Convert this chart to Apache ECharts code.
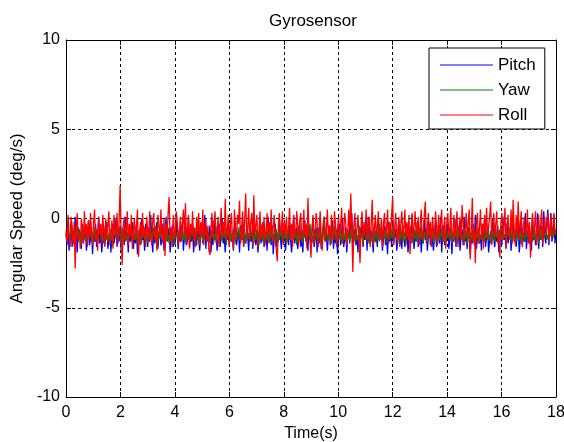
<!DOCTYPE html>
<html>
<head>
<meta charset="utf-8">
<script src="https://cdn.jsdelivr.net/npm/echarts@6/dist/echarts.min.js"></script>
<style>
  html, body { margin: 0; padding: 0; background: #fff; }
  #chart { width: 564px; height: 442px; }
</style>
</head>
<body>
<div id="chart"></div>
<script>
// Gyro sensor readings, sampled every 0.0375 s over 18 s
const sampleStep = 0.0375;
const seriesNames = ['Pitch', 'Yaw', 'Roll'];
const xTicks = [0, 2, 4, 6, 8, 10, 12, 14, 16, 18];
const yTicks = [-10, -5, 0, 5, 10];

const pitch = [
  -0.9, -1.5, -0.4, -1.8, -1.1, -0.2, -1.6, -0.7, -1.3, 0.1, -1.0, -1.9, -0.5, -1.2, -0.8, -1.7, -0.3, -1.4, -1.0, -0.6,
  -1.8, -0.9, -0.1, -1.5, -1.2, -0.5, -2.0, -0.8, -1.3, -0.3, -1.6, -1.0, 0.1, -1.4, -0.7, -1.9, -1.1, -0.4, -1.5, -0.9,
  -0.2, -1.7, -1.2, -0.6, -1.9, -0.9, -0.3, -1.4, -1.0, 0.0, -1.6, -0.8, -1.3, -0.4, -1.8, -1.1, -0.6, -1.5, 0.1, -1.2,
  -0.8, -1.9, -0.5, -1.3, -1.0, -0.2, -1.7, -0.9, -1.4, -0.4, -2.0, -1.1, -0.6, -1.5, 0.0, -1.2, -0.8, -1.8, -0.3, -1.0,
  -1.6, -0.7, -1.3, 0.2, -1.1, -1.9, -0.5, -1.4, -0.9, -0.2, -1.7, -1.0, -0.6, -1.5, -1.2, -0.3, -1.8, -0.8, 0.1, -1.3,
  -1.0, -0.5, -1.9, -1.2, -0.4, -1.6, -0.8, -1.4, 0.0, -1.1, -1.7, -0.6, -1.3, -0.9, -0.2, -1.8, -1.0, -0.5, -1.5, -1.2,
  0.1, -1.6, -0.9, -1.3, -0.4, -1.9, -1.1, -0.7, -1.5, -0.2, -1.2, -1.8, -0.8, -0.3, -1.4, -1.0, 0.2, -1.7, -0.6, -1.3,
  -1.0, -0.4, -1.9, -0.9, -1.5, -0.1, -1.2, -0.7, -1.8, -1.1, -0.3, -1.6, -0.8, 0.0, -1.4, -1.0, -1.9, -0.5, -1.2, -0.8,
  -1.6, -0.2, -1.3, -1.0, -1.8, -0.6, -0.1, -1.5, -1.1, -0.7, -1.9, -0.4, -1.2, 0.1, -1.6, -0.9, -1.4, -0.5, -1.1, -1.8,
  -0.3, -1.3, -0.8, -1.7, 0.0, -1.0, -1.5, -0.6, -1.9, -1.2, -0.4, -1.4, -0.9, -0.2, -1.6, -1.1, -0.7, -1.8, 0.1, -1.2,
  -0.9, -1.5, -0.5, -2.0, -1.1, -0.3, -1.6, -0.8, -1.3, 0.0, -1.0, -1.7, -0.6, -1.4, -0.2, -1.8, -1.1, -0.7, -1.5, -0.4,
  -1.2, -1.9, -0.8, 0.2, -1.4, -1.0, -0.5, -1.7, -1.2, -0.3, -1.6, -0.9, -1.9, -0.6, -0.1, -1.3, -1.0, -1.8, -0.4, -1.1,
  -1.5, -0.7, 0.0, -1.6, -1.2, -0.5, -1.9, -0.9, -1.4, -0.2, -1.7, -1.1, -0.6, 0.1, -1.3, -0.8, -1.8, -1.0, -0.4, -1.5,
  -1.2, -0.1, -1.7, -0.9, -1.4, -0.6, -2.0, -1.1, -0.3, -1.5, -0.8, 0.0, -1.6, -1.2, -0.5, -1.9, -1.0, -0.7, -1.4, -0.2,
  0.3, -1.7, -1.1, -0.6, -1.5, -0.9, -1.9, -0.4, -1.3, -1.0, -0.1, -1.6, -0.8, -1.2, -0.5, -1.8, 0.1, -1.1, -1.4, -0.7,
  -1.0, -1.9, -0.3, -1.3, -0.8, -1.6, 0.0, -1.2, -1.0, -0.6, -1.8, -1.1, -0.4, -1.5, -0.9, -2.0, -0.2, -1.3, -0.7, -1.6,
  -0.2, -1.4, -1.0, -0.6, -1.8, -1.2, 0.0, -1.5, -0.9, -1.7, -0.4, -1.1, -1.6, -0.8, -0.3, -1.9, -1.2, -0.5, -1.4, 0.2,
  -1.0, -1.7, -0.7, -1.3, -0.2, -1.6, -1.1, -0.5, -1.9, -0.9, -1.4, 0.0, -1.2, -0.6, -1.8, -1.0, -0.3, -1.5, -0.8, -1.3,
  -1.8, -0.9, -0.2, -1.6, -1.1, -0.6, -1.4, 0.1, -1.9, -1.0, -0.4, -1.5, -0.8, -1.2, -0.3, -1.7, -1.1, -0.5, -2.0, -0.9,
  -1.3, 0.0, -1.6, -0.7, -1.2, -0.4, -1.8, -1.0, -0.6, -1.5, 0.1, -1.3, -0.9, -1.7, -0.5, -1.1, -2.0, -0.8, -1.4, -0.3,
  -1.5, 0.2, -1.7, -1.1, -0.6, -1.4, -0.9, -1.8, -0.3, -1.2, 0.1, -1.6, -1.0, -0.5, -1.9, -1.2, -0.7, -1.4, 0.0, -1.1,
  -1.6, -0.8, -1.3, -0.4, -1.9, -1.0, -0.6, -1.5, 0.1, -1.2, -0.9, -1.7, -0.3, -1.4, -1.0, -0.5, -1.8, -1.1, 0.2, -1.3,
  -0.7, -1.6, -1.0, -0.3, -1.9, -1.2, 0.0, -1.5, -0.8, -1.3, 0.3, -1.7, -1.0, -0.5, -1.4, -0.9, -1.8, 0.1, -1.2, -0.6,
  -1.5, -1.0, 0.3, -1.7, -0.8, -1.2, -0.4, -1.6, 0.4, -1.0, -1.4, -0.2, 0.5, -1.5, -0.7, 0.3, -1.3, -0.9, 0.2, -1.4,
  -0.8
];

const yaw = [
  -0.8, -1.2, -0.6, -1.0, -1.4, -0.5, -0.9, -1.3, -0.7, -1.1, -0.4, -1.0, -1.3, -0.6, -0.9, -1.5, -0.7, -1.1, -0.5, -1.2,
  -0.9, -1.4, -0.6, -1.0, -0.4, -1.2, -0.8, -1.3, -0.5, -1.1, -0.9, -1.4, -0.7, -0.3, -1.2, -0.8, -1.0, -1.4, -0.6, -1.1,
  -0.5, -1.3, -0.9, -0.6, -1.2, -1.0, -1.5, -0.7, -0.4, -1.1, -0.8, -1.3, -0.6, -1.0, -1.4, -0.5, -0.9, -1.2, -0.7, -1.0,
  -1.3, -0.6, -1.1, -0.4, -0.9, -1.4, -0.8, -1.2, -0.5, -1.0, -1.3, -0.7, -0.9, -1.5, -0.6, -1.1, -0.4, -1.2, -0.8, -1.0,
  -1.4, -0.5, -1.1, -0.8, -1.3, -0.6, -0.9, -1.2, -0.4, -1.0, -1.4, -0.7, -1.1, -0.5, -0.9, -1.3, -0.8, -1.1, -0.3, -1.2,
  -0.9, -1.4, -0.6, -1.0, -1.2, -0.7, -1.5, -0.5, -1.0, -0.8, -1.3, -0.6, -1.1, -0.4, -0.9, -1.2, -0.7, -1.4, -0.5, -1.0,
  -1.2, -0.8, -1.3, -0.4, -1.0, -0.7, -1.4, -0.9, -0.5, -1.2, -1.0, -1.5, -0.6, -0.9, -1.3, -0.7, -1.1, -0.4, -1.2, -0.8,
  -1.0, -1.4, -0.6, -1.1, -0.5, -1.3, -0.8, -1.2, -0.4, -1.0, -1.4, -0.7, -0.9, -1.3, -0.5, -1.1, -0.8, -1.5, -0.6, -1.0,
  -0.4, -1.2, -0.9, -1.3, -0.6, -1.0, -1.4, -0.7, -1.1, -0.5, -0.9, -1.3, -0.8, -1.2, -0.3, -1.0, -1.4, -0.6, -1.1, -0.8,
  -1.3, -0.5, -1.0, -0.7, -1.4, -0.9, -1.2, -0.6, -1.0, -1.5, -0.4, -1.1, -0.8, -1.3, -0.6, -0.9, -1.2, -0.5, -1.0, -1.4,
  -0.7, -1.1, -0.4, -1.3, -0.9, -1.0, -0.6, -1.4, -0.8, -1.2, -0.5, -1.0, -1.3, -0.7, -1.1, -0.4, -1.4, -0.9, -0.6, -1.2,
  -1.0, -0.5, -1.3, -0.8, -1.1, -0.6, -1.5, -0.9, -0.4, -1.2, -1.0, -0.7, -1.4, -0.6, -1.1, -0.8, -1.3, -0.5, -1.0, -0.3,
  -1.2, -0.9, -1.4, -0.6, -1.0, -0.8, -1.3, -0.5, -1.1, -0.7, -1.5, -0.9, -0.4, -1.2, -1.0, -0.6, -1.3, -0.8, -1.1, -0.5,
  -1.4, -0.7, -1.0, -0.4, -1.2, -0.9, -1.3, -0.6, -1.1, -0.8, -1.4, -0.5, -1.0, -1.2, -0.7, -1.5, -0.6, -0.9, -1.3, -0.8,
  -1.1, -0.4, -1.3, -0.9, -0.6, -1.2, -1.0, -1.4, -0.5, -1.1, -0.8, -1.3, -0.4, -1.0, -1.2, -0.7, -1.4, -0.6, -1.0, -0.9,
  -1.3, -0.5, -1.1, -0.7, -1.4, -0.8, -1.0, -0.3, -1.2, -0.9, -1.3, -0.6, -1.1, -0.5, -1.4, -0.8, -1.0, -1.2, -0.6, -1.1,
  -0.4, -1.3, -0.9, -1.0, -0.6, -1.4, -0.8, -1.2, -0.5, -1.1, -1.3, -0.7, -1.0, -1.5, -0.6, -0.9, -1.2, -0.4, -1.1, -0.8,
  -1.4, -0.6, -1.0, -1.3, -0.5, -1.1, -0.8, -1.2, -0.4, -1.0, -1.4, -0.7, -1.1, -0.9, -1.3, -0.5, -1.0, -0.7, -1.2, -0.6,
  -1.1, -1.4, -0.7, -0.9, -1.3, -0.5, -1.2, -0.8, -1.0, -0.4, -1.3, -0.9, -1.5, -0.6, -1.1, -0.8, -1.2, -0.5, -1.0, -1.3,
  -0.7, -1.1, -0.4, -1.4, -0.8, -1.0, -0.6, -1.2, -0.9, -1.3, -0.5, -1.1, -0.7, -1.4, -1.0, -0.6, -1.2, -0.8, -1.3, -0.4,
  -1.0, -1.3, -0.7, -1.1, -0.5, -1.4, -0.9, -1.2, -0.6, -1.0, -1.3, -0.8, -1.1, -0.4, -1.2, -0.9, -1.4, -0.6, -1.0, -0.7,
  -1.3, -0.5, -1.1, -0.8, -1.4, -0.6, -1.0, -1.2, -0.3, -1.1, -0.9, -1.3, -0.7, -1.0, -0.5, -1.2, -0.8, -1.4, -0.6, -1.1,
  -0.8, -1.3, -0.5, -1.0, -1.2, -0.7, -1.4, -0.6, -1.1, -0.9, -1.3, -0.4, -1.0, -1.2, -0.8, -1.1, -0.5, -1.3, -0.7, -1.0,
  -1.2, -0.6, -1.0, -1.4, -0.7, -1.1, -0.5, -1.3, -0.8, -1.0, -0.6, -1.2, -0.9, -1.3, -0.5, -1.0, -0.8, -1.1, -0.6, -0.9,
  -0.8
];

const roll = [
  -0.7, -1.3, 0.2, -0.9, -1.6, 0.1, -0.4, -1.5, -0.2, -2.8, -0.6, 0.3, -1.2, -0.8, -1.7, 0.0, -0.5, -1.4, 0.4, -1.0,
  -0.3, -1.6, -0.1, -1.1, 0.3, -0.8, -1.5, -0.2, 0.5, -1.3, -0.6, -1.8, 0.1, -0.9, -0.3, -1.4, 0.2, -0.7, -1.6, 0.0,
  -1.2, -0.4, 0.4, -1.5, -0.8, -0.1, -1.7, 0.2, -0.6, -1.1, 0.3, -1.4, -0.2, 1.85, -0.9, -2.6, -0.5, 0.1, -1.3, -0.7,
  0.4, -1.5, -0.3, -1.0, 0.2, -1.7, -0.6, 0.0, -1.2, -0.4, 0.5, -2.15, -0.8, -0.2, -1.4, 0.3, -1.0, -0.5, -1.6, 0.1,
  -0.7, -1.3, 0.4, -0.9, -1.5, -0.1, 0.3, -1.2, -0.6, -1.8, 0.2, -0.4, -1.1, 0.5, -0.8, -1.4, 0.0, -2.1, -0.3, -1.0,
  0.3, 1.2, -1.3, -0.5, -1.6, 0.2, -0.7, -1.1, 0.4, -0.2, -1.5, -0.9, 0.1, -1.3, -0.4, 0.5, -1.0, 0.85, -1.4, -0.6,
  0.2, -1.7, -0.3, -0.9, 0.4, -1.2, -0.5, -1.6, 0.1, -0.8, 0.3, -1.4, -0.2, -1.0, 0.5, -1.5, -0.6, 0.0, -1.3, -0.4,
  -1.8, -2.05, -0.7, 0.3, -1.1, -0.3, 0.4, -1.4, -0.8, 0.1, -1.6, -0.5, 0.6, -1.2, -0.2, -0.9, 1.1, -1.3, -0.6, 0.2,
  -1.5, -0.4, 0.3, -1.0, -1.7, 0.5, -0.6, -1.2, 0.2, -0.3, 1.0, -1.4, -0.8, 0.4, -1.6, -0.1, 1.4, -1.1, -0.5, 0.6,
  -1.3, -0.2, 0.3, -1.5, 1.3, -0.9, -0.4, 0.2, -1.6, -0.7, 0.4, -1.2, -0.3, -1.0, 0.1, -1.5, -0.6, 0.3, -1.3, -0.2,
  -0.9, 0.5, -1.4, -0.5, 0.2, -1.1, -1.7, -2.4, -0.4, 0.3, -1.0, -0.6, 0.4, -1.5, -0.2, -0.8, 0.1, -1.3, -0.5, 0.6,
  -1.2, -0.3, -1.6, 0.2, -0.7, -1.1, 0.4, -0.4, -1.5, -0.1, 0.3, -1.3, -0.8, 0.5, -1.0, -0.3, -1.7, 1.15, -0.6, -1.2,
  -2.2, -0.5, 0.2, -1.4, -0.9, 0.3, -0.2, -1.6, -0.6, 0.4, -1.1, -1.8, -0.3, 0.1, -1.3, -0.7, 0.5, -1.0, -0.4, -1.5,
  0.2, -0.8, -1.2, 0.4, -0.3, -1.6, -0.6, 0.1, -1.1, -0.4, 0.6, -1.4, -0.9, 0.3, -0.2, -1.5, -0.7, 0.5, -1.0, 1.4,
  -0.8, -3.0, -0.4, 0.3, -1.3, -0.6, 0.2, -1.1, -2.5, -0.5, 0.4, -1.4, -0.2, -0.9, 0.5, -1.2, -0.6, 0.1, -1.6, -0.3,
  1.05, -1.5, -0.7, 0.2, -1.0, -0.4, 0.4, -1.3, -0.8, 0.0, -1.6, -0.3, 0.3, -1.1, -0.6, 0.5, -1.4, -0.2, -0.9, 0.2,
  1.2, -1.5, -0.5, 0.3, -1.2, -0.8, 0.1, -1.6, -0.3, 0.4, -1.0, -0.6, 0.5, -1.4, -0.2, -1.1, 0.2, -2.0, -0.7, 0.3,
  -1.3, -0.4, 0.4, -1.0, -0.6, 0.1, -1.5, -0.3, 0.5, -1.2, -0.8, 0.2, 0.95, -1.4, -0.5, 0.3, -1.1, -0.2, -1.6, 0.1,
  -0.7, -1.2, 0.4, -0.4, -1.5, 0.2, -0.9, -0.3, 0.5, -1.3, -0.6, 0.1, -1.7, -0.2, 0.3, -1.0, -0.5, 0.6, -1.4, -0.8,
  0.2, -1.1, -0.4, 0.4, -1.6, -0.6, 0.1, -1.2, 0.75, -0.3, -1.5, -0.8, 0.3, -1.0, -0.2, 0.5, -2.3, -0.7, 1.15, -1.3,
  -0.5, -2.5, -0.2, 0.3, -1.4, -0.6, 0.5, -1.1, -0.3, -1.7, 0.2, -0.8, 0.6, -1.2, -0.4, 0.1, 0.95, -1.5, -0.6, 0.3,
  -1.0, -0.3, 0.4, -1.4, -0.7, -2.2, -0.2, 0.3, -1.2, -0.5, 0.6, -1.6, -0.4, 0.2, -1.1, -0.8, 0.5, -1.3, 1.05, -0.6,
  -1.5, 0.2, -0.9, 0.95, -1.2, -0.3, 0.4, -1.6, -0.5, 0.1, -1.0, -0.7, 0.5, -1.4, -0.2, -2.2, -0.6, 0.3, -1.1, -0.4,
  0.4, -1.5, -0.8, 0.2, -1.2, -0.3, 0.5, -1.4, -0.6, 0.1, -1.0, -0.4, 0.3, -1.3, -0.7, 0.2, -1.1, -0.5, 0.3, -0.9,
  -0.6
];

const seriesColors = ['#0000ff', '#008000', '#ff0000'];
const FONT = '"Liberation Sans", Arial, sans-serif';

// pair each reading with its sample time
function withTime(values) {
  return values.map((v, i) => [+(i * sampleStep).toFixed(4), v]);
}

const gridLine = { show: true, lineStyle: { color: '#000', width: 1, type: [3, 3] } };
const frameLine = { show: true, onZero: false, lineStyle: { color: '#000', width: 1 } };
const innerTick = { show: true, inside: true, length: 5, lineStyle: { color: '#000' } };
const tickLabel = { color: '#000', fontSize: 16, fontFamily: FONT };

const chart = echarts.init(document.getElementById('chart'), null, { renderer: 'canvas' });
chart.setOption({
  animation: false,
  backgroundColor: '#fff',
  title: {
    text: 'Gyrosensor',
    left: 264, top: 8,
    textStyle: { fontSize: 17, fontWeight: 'normal', color: '#000', fontFamily: FONT }
  },
  legend: {
    data: seriesNames,
    orient: 'vertical',
    left: 429, top: 48,
    icon: 'rect',
    itemWidth: 53, itemHeight: 1,
    itemGap: 7,
    itemTextGap: 7,
    padding: [8, 9, 5, 11],
    borderColor: '#000', borderWidth: 1,
    backgroundColor: '#fff',
    textStyle: { fontSize: 17, color: '#000', fontFamily: FONT, lineHeight: 18 }
  },
  grid: { left: 66, right: 8, top: 40, bottom: 45, containLabel: false, outerBoundsMode: 'none' },
  xAxis: [
    {
      type: 'value', min: 0, max: 18, interval: 2,
      name: 'Time(s)', nameLocation: 'middle', nameGap: 29,
      nameTextStyle: { fontSize: 16, color: '#000', fontFamily: FONT },
      axisLine: frameLine, axisTick: innerTick,
      axisLabel: Object.assign({ margin: 8, formatter: v => xTicks.includes(v) ? String(v) : '' }, tickLabel),
      splitLine: gridLine
    },
    {
      type: 'value', min: 0, max: 18, interval: 2, position: 'top',
      axisLine: frameLine, axisTick: innerTick, axisLabel: { show: false }, splitLine: { show: false }
    }
  ],
  yAxis: [
    {
      type: 'value', min: -10, max: 10, interval: 5,
      name: 'Angular Speed (deg/s)', nameLocation: 'middle', nameGap: 38, nameRotate: 90,
      nameTextStyle: { fontSize: 17, color: '#000', fontFamily: FONT },
      axisLine: frameLine, axisTick: innerTick,
      axisLabel: Object.assign({ margin: 6, formatter: v => yTicks.includes(v) ? String(v) : '' }, tickLabel),
      splitLine: gridLine
    },
    {
      type: 'value', min: -10, max: 10, interval: 5, position: 'right',
      axisLine: frameLine, axisTick: innerTick, axisLabel: { show: false }, splitLine: { show: false }
    }
  ],
  series: [pitch, yaw, roll].map((vals, k) => ({
    name: seriesNames[k],
    type: 'line',
    data: withTime(vals),
    showSymbol: false,
    symbol: 'none',
    lineStyle: { color: seriesColors[k], width: 1.3 },
    itemStyle: { color: seriesColors[k] },
    emphasis: { disabled: true },
    z: 2 + k
  }))
});
</script>
</body>
</html>
